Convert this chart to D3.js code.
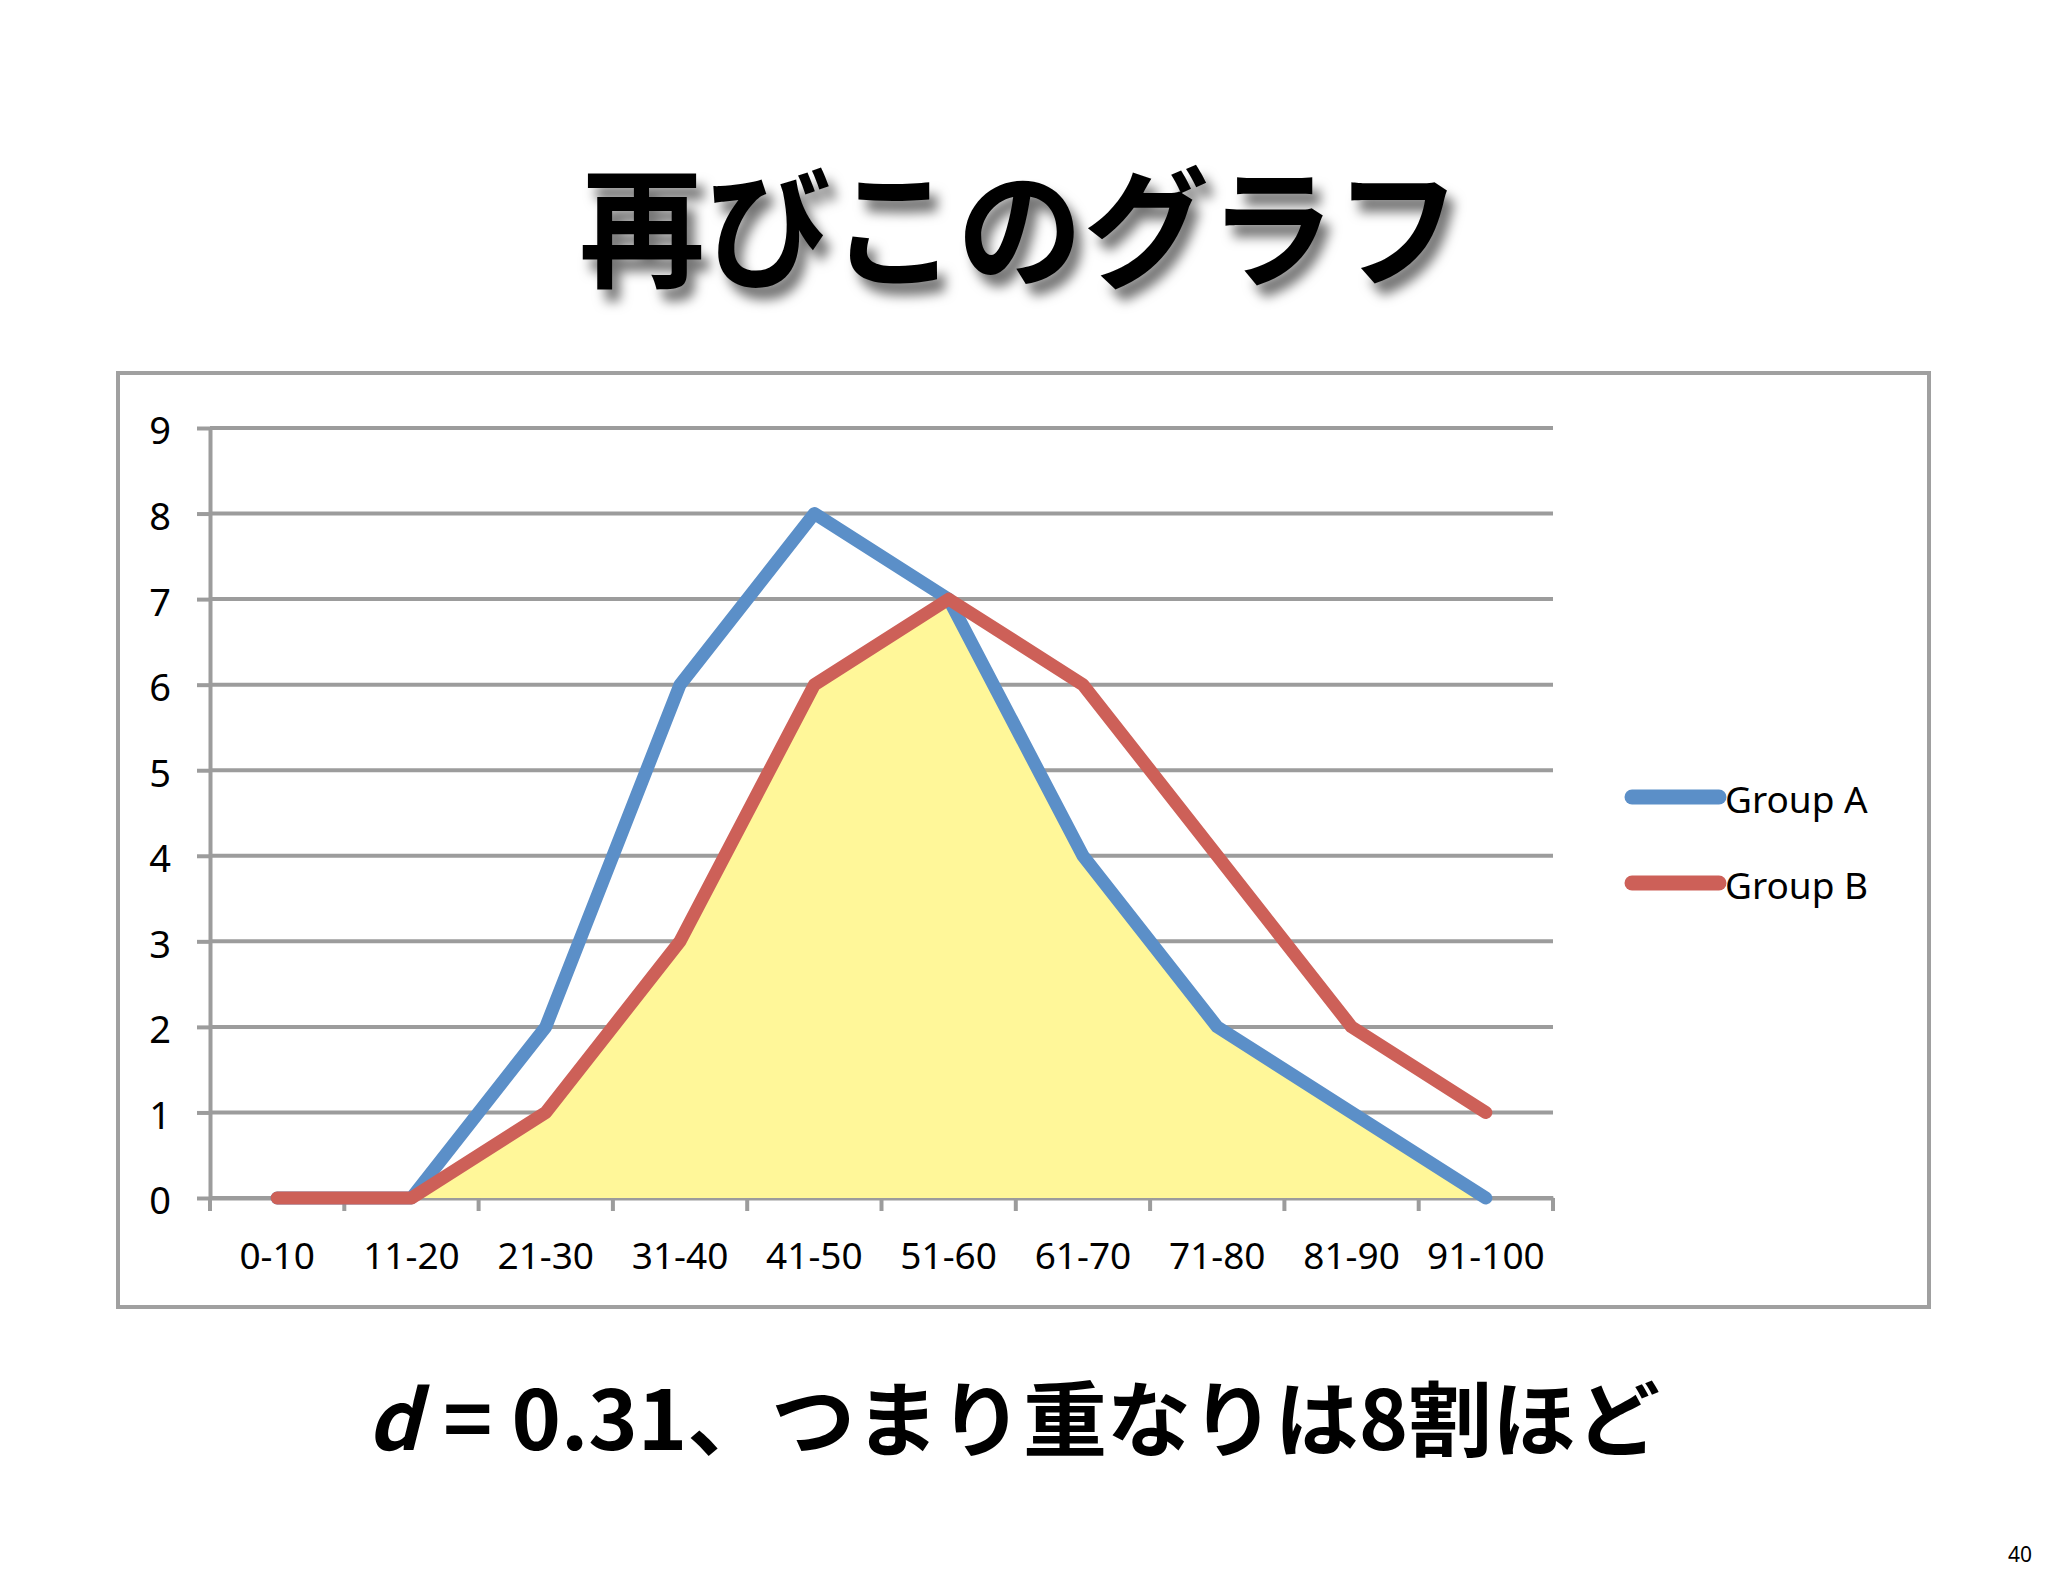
<!DOCTYPE html>
<html>
<head>
<meta charset="utf-8">
<script src="https://cdn.jsdelivr.net/npm/d3@7"></script>
<style>
  body{margin:0;background:#fff;}
  svg{display:block;}
</style>
</head>
<body>
<div id="chart"></div>
<script>
var categories = ["0-10","11-20","21-30","31-40","41-50","51-60","61-70","71-80","81-90","91-100"];
var groupA = [0,0,2,6,8,7,4,2,1,0];
var groupB = [0,0,1,3,6,7,6,4,2,1];
var yTickValues = [0,1,2,3,4,5,6,7,8,9];
var seriesNames = ["Group A","Group B"];
var seriesColours = ["#5b8fc8","#cd6058"];

var titleText = "再びこのグラフ";
var captionVar = "d";
var captionRest = "= 0.31、つまり重なりは8割ほど";
var pageNumber = "40";

function render(){
  var svg = d3.select("#chart")
    .append("svg")
    .attr("width",2048)
    .attr("height",1576);

  var defs = svg.append("defs");
  var shadow = defs.append("filter")
    .attr("id","titleShadow")
    .attr("x","-10%").attr("y","-20%")
    .attr("width","130%").attr("height","160%");
  shadow.append("feDropShadow")
    .attr("dx",8)
    .attr("dy",12)
    .attr("stdDeviation",6)
    .attr("flood-color","#000")
    .attr("flood-opacity",0.55);

  // title
  svg.append("text")
    .attr("x",1020)
    .attr("y",277)
    .attr("text-anchor","middle")
    .attr("textLength",882)
    .attr("lengthAdjust","spacingAndGlyphs")
    .style("font-family","'Noto Sans CJK JP'")
    .style("font-weight","bold")
    .style("font-size","130px")
    .style("fill","#000")
    .attr("filter","url(#titleShadow)")
    .text(titleText);

  // chart frame
  svg.append("rect")
    .attr("x",118)
    .attr("y",373)
    .attr("width",1811)
    .attr("height",934)
    .style("fill","#fff")
    .style("stroke","#a0a0a0")
    .style("stroke-width",4);

  var x = d3.scaleBand()
    .domain(categories)
    .range([210,1553]);

  var y = d3.scaleLinear()
    .domain([0,9])
    .range([1198,428]);

  var g = svg.append("g").attr("class","plot");

  // gridlines
  g.selectAll("line.grid")
    .data(yTickValues)
    .enter()
    .append("line")
    .attr("class","grid")
    .attr("x1",210)
    .attr("x2",1553)
    .attr("y1",function(d){ return y(d); })
    .attr("y2",function(d){ return y(d); })
    .style("stroke","#9c9c9c")
    .style("stroke-width",4);

  // y axis
  var yAxis = g.append("g")
    .attr("transform","translate(210,0)")
    .call(d3.axisLeft(y).tickValues(yTickValues).tickSize(13).tickSizeOuter(0).tickPadding(26));
  yAxis.select(".domain").style("stroke","#9c9c9c").style("stroke-width",4);
  yAxis.selectAll(".tick line").style("stroke","#9c9c9c").style("stroke-width",4);
  yAxis.selectAll(".tick text")
    .attr("dy","0.42em")
    .style("font-family","'Noto Sans'")
    .style("font-size","38px")
    .style("fill","#000");

  // x axis
  var xAxis = g.append("g")
    .attr("transform","translate(0,1198)")
    .call(d3.axisBottom(x).tickSize(0).tickSizeOuter(0).tickPadding(0));
  xAxis.select(".domain").style("stroke","#9c9c9c").style("stroke-width",4);
  xAxis.selectAll(".tick text")
    .attr("y",71)
    .attr("dy",0)
    .style("font-family","'Noto Sans'")
    .style("font-size","37px")
    .style("fill","#000");

  var bounds = categories.map(function(c){ return x(c); }).concat([x.range()[1]]);
  xAxis.selectAll("line.bound")
    .data(bounds)
    .enter()
    .append("line")
    .attr("class","bound")
    .attr("x1",function(d){ return d; })
    .attr("x2",function(d){ return d; })
    .attr("y1",0)
    .attr("y2",13)
    .style("stroke","#9c9c9c")
    .style("stroke-width",4);

  var cx = function(d,i){ return x(categories[i]) + x.bandwidth()/2; };

  // overlap area
  var overlap = groupA.map(function(v,i){ return Math.min(v,groupB[i]); });
  var area = d3.area()
    .x(cx)
    .y0(y(0))
    .y1(function(d){ return y(d); });
  g.append("path")
    .datum(overlap)
    .attr("d",area)
    .style("fill","#fff799")
    .style("stroke","none");

  var line = d3.line()
    .x(cx)
    .y(function(d){ return y(d); });

  [groupA,groupB].forEach(function(series,k){
    g.append("path")
      .datum(series)
      .attr("d",line)
      .style("fill","none")
      .style("stroke",seriesColours[k])
      .style("stroke-width",13)
      .style("stroke-linejoin","round")
      .style("stroke-linecap","round");
  });

  // legend
  var legend = svg.append("g").attr("class","legend");
  var items = legend.selectAll("g")
    .data(seriesNames)
    .enter()
    .append("g")
    .attr("transform",function(d,i){ return "translate(1632," + (797 + i*86) + ")"; });
  items.append("line")
    .attr("x1",0)
    .attr("x2",87)
    .style("stroke",function(d,i){ return seriesColours[i]; })
    .style("stroke-width",15)
    .style("stroke-linecap","round");
  items.append("text")
    .attr("x",93)
    .attr("y",16)
    .style("font-family","'Noto Sans'")
    .style("font-size","37px")
    .style("fill","#000")
    .text(function(d){ return d; });

  // bottom caption
  svg.append("text")
    .attr("x",367)
    .attr("y",1450)
    .style("font-family","'Noto Sans CJK JP'")
    .style("font-weight","bold")
    .style("font-style","italic")
    .style("font-size","82px")
    .style("fill","#000")
    .text(captionVar);
  svg.append("text")
    .attr("x",443)
    .attr("y",1450)
    .attr("textLength",1217)
    .attr("lengthAdjust","spacingAndGlyphs")
    .style("font-family","'Noto Sans CJK JP'")
    .style("font-weight","bold")
    .style("font-size","82px")
    .style("fill","#000")
    .text(captionRest);

  // page number
  svg.append("text")
    .attr("x",2032)
    .attr("y",1562)
    .attr("text-anchor","end")
    .style("font-family","'Noto Sans'")
    .style("font-size","21px")
    .style("fill","#000")
    .text(pageNumber);
}

render();
</script>
</body>
</html>
